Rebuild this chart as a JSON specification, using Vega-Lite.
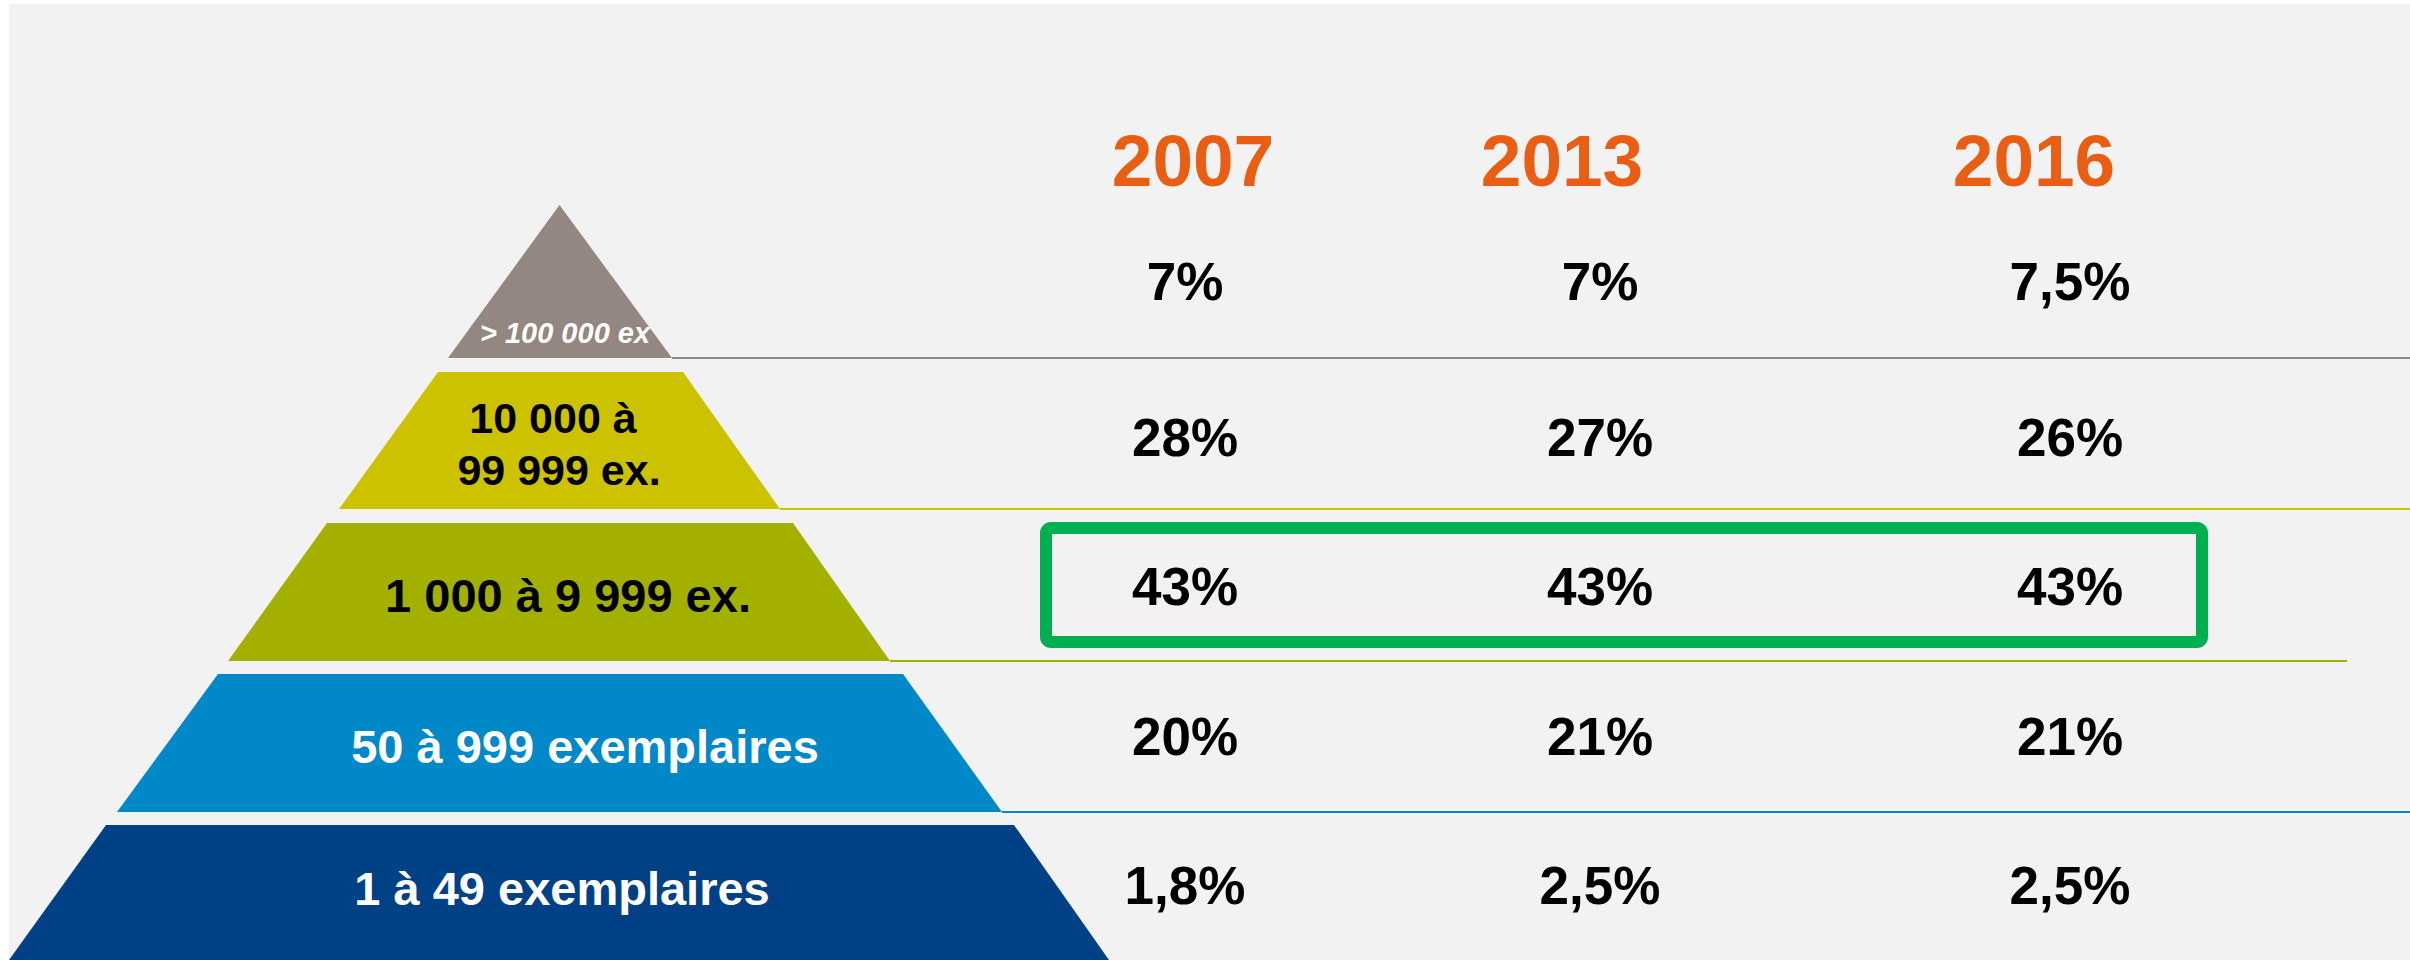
{
  "$schema": "https://vega.github.io/schema/vega-lite/v6.json",
  "width": 2410,
  "height": 960,
  "autosize": {"type": "none"},
  "padding": 0,
  "background": "#FFFFFF",
  "config": {
    "view": {"stroke": null},
    "font": "Liberation Sans",
    "locale": {"number": {"decimal": ",", "thousands": " ", "grouping": [3], "currency": ["", " €"]}}
  },
  "datasets": {
    "pyramide": [
      {"tranche": "> 100 000 ex", "y": 205, "gauche": 559.5, "droite": 559.5},
      {"tranche": "> 100 000 ex", "y": 358, "gauche": 448, "droite": 672},
      {"tranche": "10 000 à 99 999 ex.", "y": 372, "gauche": 438, "droite": 683},
      {"tranche": "10 000 à 99 999 ex.", "y": 509, "gauche": 339, "droite": 780},
      {"tranche": "1 000 à 9 999 ex.", "y": 523, "gauche": 327, "droite": 793},
      {"tranche": "1 000 à 9 999 ex.", "y": 661, "gauche": 228, "droite": 890},
      {"tranche": "50 à 999 exemplaires", "y": 674, "gauche": 218, "droite": 903},
      {"tranche": "50 à 999 exemplaires", "y": 812, "gauche": 117, "droite": 1002},
      {"tranche": "1 à 49 exemplaires", "y": 825, "gauche": 106, "droite": 1014},
      {"tranche": "1 à 49 exemplaires", "y": 960, "gauche": 9, "droite": 1109}
    ],
    "separateurs": [
      {"tranche": "> 100 000 ex", "y": 358, "debut": 672, "fin": 2410},
      {"tranche": "10 000 à 99 999 ex.", "y": 509, "debut": 780, "fin": 2410},
      {"tranche": "1 000 à 9 999 ex.", "y": 661, "debut": 890, "fin": 2347},
      {"tranche": "50 à 999 exemplaires", "y": 812, "debut": 1002, "fin": 2410}
    ],
    "annees": [
      {"annee": 2007, "rang": 0},
      {"annee": 2013, "rang": 0},
      {"annee": 2016, "rang": 0}
    ],
    "parts": [
      {"tranche": "> 100 000 ex", "rang": 1, "annee": 2007, "part": 0.07},
      {"tranche": "> 100 000 ex", "rang": 1, "annee": 2013, "part": 0.07},
      {"tranche": "> 100 000 ex", "rang": 1, "annee": 2016, "part": 0.075},
      {"tranche": "10 000 à 99 999 ex.", "rang": 2, "annee": 2007, "part": 0.28},
      {"tranche": "10 000 à 99 999 ex.", "rang": 2, "annee": 2013, "part": 0.27},
      {"tranche": "10 000 à 99 999 ex.", "rang": 2, "annee": 2016, "part": 0.26},
      {"tranche": "1 000 à 9 999 ex.", "rang": 3, "annee": 2007, "part": 0.43},
      {"tranche": "1 000 à 9 999 ex.", "rang": 3, "annee": 2013, "part": 0.43},
      {"tranche": "1 000 à 9 999 ex.", "rang": 3, "annee": 2016, "part": 0.43},
      {"tranche": "50 à 999 exemplaires", "rang": 4, "annee": 2007, "part": 0.20},
      {"tranche": "50 à 999 exemplaires", "rang": 4, "annee": 2013, "part": 0.21},
      {"tranche": "50 à 999 exemplaires", "rang": 4, "annee": 2016, "part": 0.21},
      {"tranche": "1 à 49 exemplaires", "rang": 5, "annee": 2007, "part": 0.018},
      {"tranche": "1 à 49 exemplaires", "rang": 5, "annee": 2013, "part": 0.025},
      {"tranche": "1 à 49 exemplaires", "rang": 5, "annee": 2016, "part": 0.025}
    ]
  },
  "layer": [
    {
      "data": {"values": [{"x0": 9, "x1": 2410, "y0": 4, "y1": 960}]},
      "mark": {"type": "rect", "fill": "#F2F2F2"},
      "encoding": {
        "x": {"field": "x0", "type": "quantitative", "scale": {"domain": [0, 2410], "nice": false, "zero": false}, "axis": null},
        "x2": {"field": "x1"},
        "y": {"field": "y0", "type": "quantitative", "scale": {"domain": [0, 960], "reverse": true, "nice": false, "zero": false}, "axis": null},
        "y2": {"field": "y1"}
      }
    },
    {
      "data": {"name": "separateurs"},
      "mark": {"type": "rule", "strokeWidth": 2},
      "encoding": {
        "x": {"field": "debut", "type": "quantitative", "scale": {"domain": [0, 2410], "nice": false, "zero": false}, "axis": null},
        "x2": {"field": "fin"},
        "y": {"field": "y", "type": "quantitative", "scale": {"domain": [0, 960], "reverse": true, "nice": false, "zero": false}, "axis": null},
        "color": {"field": "tranche", "type": "nominal", "legend": null,
          "scale": {"domain": ["> 100 000 ex", "10 000 à 99 999 ex.", "1 000 à 9 999 ex.", "50 à 999 exemplaires", "1 à 49 exemplaires"],
                    "range": ["#948680", "#CCC200", "#A3B000", "#0088C8", "#004085"]}}
      }
    },
    {
      "data": {"name": "pyramide"},
      "mark": {"type": "area", "orient": "horizontal", "opacity": 1},
      "encoding": {
        "y": {"field": "y", "type": "quantitative", "scale": {"domain": [0, 960], "reverse": true, "nice": false, "zero": false}, "axis": null},
        "x": {"field": "gauche", "type": "quantitative", "scale": {"domain": [0, 2410], "nice": false, "zero": false}, "axis": null},
        "x2": {"field": "droite"},
        "color": {"field": "tranche", "type": "nominal", "legend": null,
          "scale": {"domain": ["> 100 000 ex", "10 000 à 99 999 ex.", "1 000 à 9 999 ex.", "50 à 999 exemplaires", "1 à 49 exemplaires"],
                    "range": ["#948680", "#CCC200", "#A3B000", "#0088C8", "#004085"]}},
        "detail": {"field": "tranche"}
      }
    },
    {
      "data": {"values": [{"libelle": "> 100 000 ex", "x": 565, "y": 343}]},
      "mark": {"type": "text", "font": "Liberation Sans", "fontSize": 29, "fontWeight": "bold", "fontStyle": "italic", "color": "#FFFFFF", "align": "center", "baseline": "alphabetic"},
      "encoding": {
        "x": {"field": "x", "type": "quantitative", "scale": {"domain": [0, 2410], "nice": false, "zero": false}, "axis": null},
        "y": {"field": "y", "type": "quantitative", "scale": {"domain": [0, 960], "reverse": true, "nice": false, "zero": false}, "axis": null},
        "text": {"field": "libelle"}
      }
    },
    {
      "data": {"values": [{"libelle": "10 000 à", "x": 553, "y": 433}, {"libelle": "99 999 ex.", "x": 559, "y": 485}]},
      "mark": {"type": "text", "font": "Liberation Sans", "fontSize": 43, "fontWeight": "bold", "color": "#000000", "align": "center", "baseline": "alphabetic"},
      "encoding": {
        "x": {"field": "x", "type": "quantitative", "scale": {"domain": [0, 2410], "nice": false, "zero": false}, "axis": null},
        "y": {"field": "y", "type": "quantitative", "scale": {"domain": [0, 960], "reverse": true, "nice": false, "zero": false}, "axis": null},
        "text": {"field": "libelle"}
      }
    },
    {
      "data": {"values": [{"libelle": "1 000 à 9 999 ex.", "x": 568, "y": 612}]},
      "mark": {"type": "text", "font": "Liberation Sans", "fontSize": 47, "fontWeight": "bold", "color": "#000000", "align": "center", "baseline": "alphabetic"},
      "encoding": {
        "x": {"field": "x", "type": "quantitative", "scale": {"domain": [0, 2410], "nice": false, "zero": false}, "axis": null},
        "y": {"field": "y", "type": "quantitative", "scale": {"domain": [0, 960], "reverse": true, "nice": false, "zero": false}, "axis": null},
        "text": {"field": "libelle"}
      }
    },
    {
      "data": {"values": [{"libelle": "50 à 999 exemplaires", "x": 585, "y": 763}, {"libelle": "1 à 49 exemplaires", "x": 562, "y": 905}]},
      "mark": {"type": "text", "font": "Liberation Sans", "fontSize": 47, "fontWeight": "bold", "color": "#FFFFFF", "align": "center", "baseline": "alphabetic"},
      "encoding": {
        "x": {"field": "x", "type": "quantitative", "scale": {"domain": [0, 2410], "nice": false, "zero": false}, "axis": null},
        "y": {"field": "y", "type": "quantitative", "scale": {"domain": [0, 960], "reverse": true, "nice": false, "zero": false}, "axis": null},
        "text": {"field": "libelle"}
      }
    },
    {
      "data": {"values": [{"x0": 1046, "x1": 2202, "y0": 528, "y1": 642}]},
      "mark": {"type": "rect", "filled": false, "stroke": "#00B050", "strokeWidth": 12, "cornerRadius": 5},
      "encoding": {
        "x": {"field": "x0", "type": "quantitative", "scale": {"domain": [0, 2410], "nice": false, "zero": false}, "axis": null},
        "x2": {"field": "x1"},
        "y": {"field": "y0", "type": "quantitative", "scale": {"domain": [0, 960], "reverse": true, "nice": false, "zero": false}, "axis": null},
        "y2": {"field": "y1"}
      }
    },
    {
      "data": {"name": "annees"},
      "mark": {"type": "text", "font": "Liberation Sans", "fontSize": 73, "fontWeight": "bold", "color": "#E95E13", "align": "center", "baseline": "alphabetic"},
      "encoding": {
        "x": {"field": "annee", "type": "quantitative", "scale": {"domain": [2007, 2013, 2016], "range": [1193, 1562, 2034], "nice": false, "zero": false}, "axis": null},
        "y": {"field": "rang", "type": "quantitative", "scale": {"domain": [0, 1, 2, 3, 4, 5], "range": [186, 300, 456, 605, 755, 904], "nice": false, "zero": false}, "axis": null},
        "text": {"field": "annee", "type": "nominal"}
      }
    },
    {
      "data": {"name": "parts"},
      "mark": {"type": "text", "font": "Liberation Sans", "fontSize": 53, "fontWeight": "bold", "color": "#000000", "align": "center", "baseline": "alphabetic"},
      "encoding": {
        "x": {"field": "annee", "type": "quantitative", "scale": {"domain": [2007, 2013, 2016], "range": [1185, 1600, 2070], "nice": false, "zero": false}, "axis": null},
        "y": {"field": "rang", "type": "quantitative", "scale": {"domain": [0, 1, 2, 3, 4, 5], "range": [186, 300, 456, 605, 755, 904], "nice": false, "zero": false}, "axis": null},
        "text": {"field": "part", "type": "quantitative", "format": "~%"}
      }
    }
  ],
  "resolve": {"scale": {"x": "independent", "y": "independent"}}
}
